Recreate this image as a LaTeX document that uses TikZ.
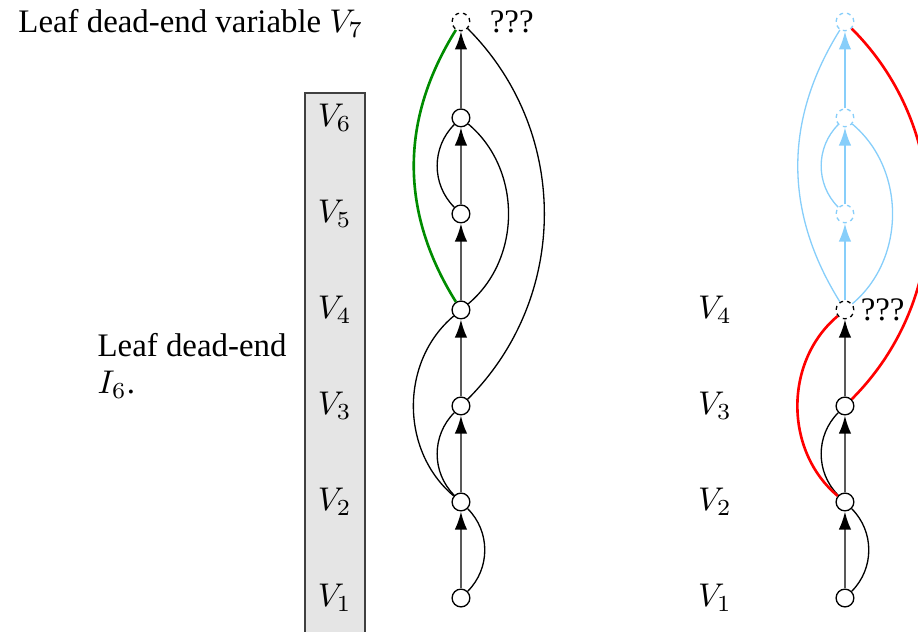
\documentclass[tikz,border=0pt]{standalone}
\usepackage{fontspec}
\setmainfont{Liberation Serif}
\usetikzlibrary{arrows.meta,positioning}
\definecolor{skyb}{RGB}{135,206,250}
\definecolor{leafgreen}{RGB}{0,140,0}

\begin{document}
\begin{tikzpicture}[>={Latex[length=5.5pt,width=3.8pt]}, node distance=1.027cm,
  var/.style={draw, circle, fill=white, inner sep=0pt, minimum size=0.19cm},
  gone/.style={var, dash pattern=on 1.2pt off 1.2pt},
  link/.style={draw=gray!70!black, semithick, -{Latex[length=5.5pt,width=3.8pt,color=black]}},
  fadedlink/.style={draw=skyb, semithick, ->}]
\useasboundingbox (0,0) rectangle (9.818,6.759);
\clip (0,0) rectangle (9.818,6.759);

% the levels V1..V6
\draw[fill=gray!20, draw=gray!50!black] (3.262,-0.3) rectangle (3.904,5.764);
\node (v1) at (3.58,0.363) {$V_1$};
\node[above of=v1] (v2) {$V_2$};
\node[above of=v2] (v3) {$V_3$};
\node[above of=v3] (v4) {$V_4$};
\node[above of=v4] (v5) {$V_5$};
\node[above of=v5] (v6) {$V_6$};

\node[anchor=base west, inner sep=0pt] (top) at (0.19,6.406) {Leaf dead-end variable $V_7$};
\node[anchor=west, align=left, inner sep=0pt] (leaf) at (1.037,2.845) {Leaf dead-end\\[-1pt]$I_6$.};

% left graph
\node[var] (l1) at (4.930,0.363) {};
\node[var, above of=l1] (l2) {};
\node[var, above of=l2] (l3) {};
\node[var, above of=l3] (l4) {};
\node[var, above of=l4] (l5) {};
\node[var, above of=l5] (l6) {};
\node[gone, above of=l6] (l7) {};
\node[inner sep=0pt, right=0.2cm of l7] (q7) {???};

\foreach \i/\j in {1/2,2/3,3/4,4/5,5/6,6/7}
  \draw[link] (l\i) -- (l\j);
\draw (l1) to[bend right=45] (l2);
\draw (l2) to[bend left=45] (l3);
\draw (l2) to[bend left=50] (l4);
\draw (l3) to[bend right=45] (l7);
\draw (l4) to[bend right=50] (l6);
\draw (l5) to[bend left=45] (l6);
\draw[thick, leafgreen] (l4) to[bend left=32] (l7);

% right graph
\node (w1) at (7.647,0.363) {$V_1$};
\node[above of=w1] (w2) {$V_2$};
\node[above of=w2] (w3) {$V_3$};
\node[above of=w3] (w4) {$V_4$};

\node[var] (r1) at (9.037,0.363) {};
\node[var, above of=r1] (r2) {};
\node[var, above of=r2] (r3) {};
\node[gone, above of=r3] (r4) {};
\node[gone, draw=skyb, above of=r4] (r5) {};
\node[gone, draw=skyb, above of=r5] (r6) {};
\node[gone, draw=skyb, above of=r6] (r7) {};
\node[inner sep=0pt, right=0.06cm of r4] (q4) {???};

\foreach \i/\j in {1/2,2/3,3/4}
  \draw[link] (r\i) -- (r\j);
\foreach \i/\j in {4/5,5/6,6/7}
  \draw[fadedlink] (r\i) -- (r\j);
\draw (r1) to[bend right=45] (r2);
\draw (r2) to[bend left=45] (r3);
\draw[thick, red] (r2) to[bend left=50] (r4);
\draw[thick, red] (r3) to[bend right=45] (r7);
\draw[skyb] (r4) to[bend right=50] (r6);
\draw[skyb] (r5) to[bend left=45] (r6);
\draw[skyb] (r4) to[bend left=32] (r7);
\end{tikzpicture}
\end{document}
